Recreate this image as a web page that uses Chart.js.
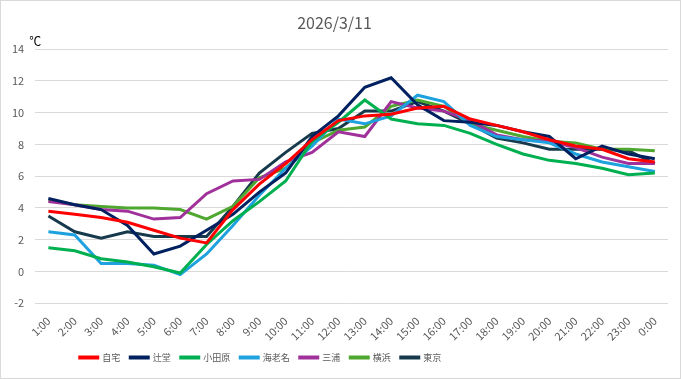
<!DOCTYPE html>
<html>
<head>
<meta charset="utf-8">
<script src="https://cdn.jsdelivr.net/npm/chart.js@4"></script>
<style>
  html, body { margin: 0; padding: 0; background: #fff; }
  #wrap { width: 679px; height: 377px; border: 1px solid #d9d9d9; position: relative; }
</style>
</head>
<body>
<div id="wrap"><canvas id="chart-line" width="679" height="377"></canvas></div>
<script>
const hours = ['1:00', '2:00', '3:00', '4:00', '5:00', '6:00', '7:00', '8:00', '9:00', '10:00', '11:00', '12:00',
    '13:00', '14:00', '15:00', '16:00', '17:00', '18:00', '19:00', '20:00', '21:00', '22:00', '23:00', '0:00'];

const jitaku   = [3.8, 3.6, 3.4, 3.1, 2.6, 2.1, 1.8, 3.9, 5.5, 6.8, 8.3, 9.5, 9.8, 9.9, 10.3, 10.4, 9.6, 9.2, 8.8, 8.3, 7.9, 7.7, 7.1, 6.9];
const tsujido  = [4.6, 4.2, 3.9, 2.9, 1.1, 1.6, 2.6, 3.6, 5.0, 6.2, 8.5, 9.8, 11.6, 12.2, 10.5, 9.5, 9.4, 9.2, 8.8, 8.5, 7.1, 7.9, 7.4, 7.1];
const odawara  = [1.5, 1.3, 0.8, 0.6, 0.3, -0.1, 1.7, 3.2, 4.4, 5.7, 8.2, 9.4, 10.8, 9.6, 9.3, 9.2, 8.7, 8.0, 7.4, 7.0, 6.8, 6.5, 6.1, 6.2];
const ebina    = [2.5, 2.3, 0.5, 0.5, 0.4, -0.2, 1.1, 2.9, 4.8, 6.5, 7.9, 9.6, 9.3, 9.8, 11.1, 10.7, 9.2, 8.5, 8.3, 8.1, 7.4, 6.9, 6.6, 6.3];
const miura    = [4.4, 4.2, 3.9, 3.8, 3.3, 3.4, 4.9, 5.7, 5.8, 6.9, 7.5, 8.8, 8.5, 10.7, 10.3, 10.1, 9.5, 8.6, 8.3, 8.2, 7.8, 7.2, 6.8, 6.8];
const yokohama = [4.5, 4.2, 4.1, 4.0, 4.0, 3.9, 3.3, 4.1, 5.9, 6.5, 8.1, 8.9, 9.1, 10.4, 10.8, 10.4, 9.3, 8.9, 8.5, 8.2, 8.1, 7.7, 7.7, 7.6];
const tokyo    = [3.5, 2.5, 2.1, 2.5, 2.2, 2.2, 2.2, 4.1, 6.2, 7.5, 8.7, 9.0, 10.1, 10.1, 10.7, 10.1, 9.3, 8.4, 8.1, 7.7, 7.7, 7.7, 7.6, 6.8];

const seriesNames = ['自宅', '辻堂', '小田原', '海老名', '三浦', '横浜', '東京'];
const seriesData = [jitaku, tsujido, odawara, ebina, miura, yokohama, tokyo];
const seriesColors = ['#ff0000', '#002060', '#00b050', '#1ea2df', '#a0309a', '#4ea72e', '#163a4c'];

const fontFamily = '"Noto Sans CJK JP", "Noto Sans", sans-serif';

// degree label above the y axis
const unitLabel = {
    id: 'unitLabel',
    afterDraw(chart) {
        const ctx = chart.ctx;
        ctx.save();
        ctx.font = '12px ' + fontFamily;
        ctx.fillStyle = '#000';
        ctx.textAlign = 'left';
        ctx.textBaseline = 'bottom';
        ctx.fillText('℃', chart.chartArea.left - 6, chart.chartArea.top - 2);
        ctx.restore();
    }
};

// Excel put the legend left of centre
const legendShift = {
    id: 'legendShift',
    afterLayout(chart) {
        chart.legend.left -= 74;
        chart.legend.right -= 74;
    }
};

const datasets = seriesNames.map((name, i) => ({
    label: name,
    data: seriesData[i],
    borderColor: seriesColors[i],
    backgroundColor: seriesColors[i],
    borderWidth: 3,
    pointRadius: 0,
    tension: 0,
    fill: false
}));

const ctx = document.getElementById('chart-line').getContext('2d');
new Chart(ctx, {
    type: 'line',
    data: {
        labels: hours,
        datasets: datasets
    },
    plugins: [unitLabel, legendShift],
    options: {
        responsive: false,
        animation: false,
        layout: {
            padding: { left: 0, right: 12, top: 8, bottom: 6 }
        },
        plugins: {
            title: {
                display: true,
                text: '2026/3/11',
                color: '#595959',
                font: { size: 16, family: fontFamily, weight: 'normal' },
                padding: { top: 4, bottom: 17 }
            },
            legend: {
                position: 'bottom',
                labels: {
                    boxWidth: 18,
                    boxHeight: 1,
                    padding: 10,
                    color: '#595959',
                    font: { size: 9, family: fontFamily }
                }
            },
            tooltip: { enabled: false }
        },
        scales: {
            y: {
                min: -2,
                max: 14,
                border: { display: false },
                grid: {
                    color: '#d9d9d9',
                    drawTicks: false
                },
                ticks: {
                    stepSize: 2,
                    padding: 11,
                    color: '#595959',
                    font: { size: 11, family: fontFamily }
                }
            },
            x: {
                offset: true,
                border: { display: false },
                grid: {
                    display: false,
                    drawTicks: false
                },
                // rotated labels need less room than Chart.js reserves
                afterFit(scale) {
                    scale.height -= 11;
                },
                ticks: {
                    autoSkip: false,
                    minRotation: 45,
                    maxRotation: 45,
                    padding: 11,
                    color: '#595959',
                    font: { size: 11, family: fontFamily }
                }
            }
        }
    }
});
</script>
</body>
</html>
